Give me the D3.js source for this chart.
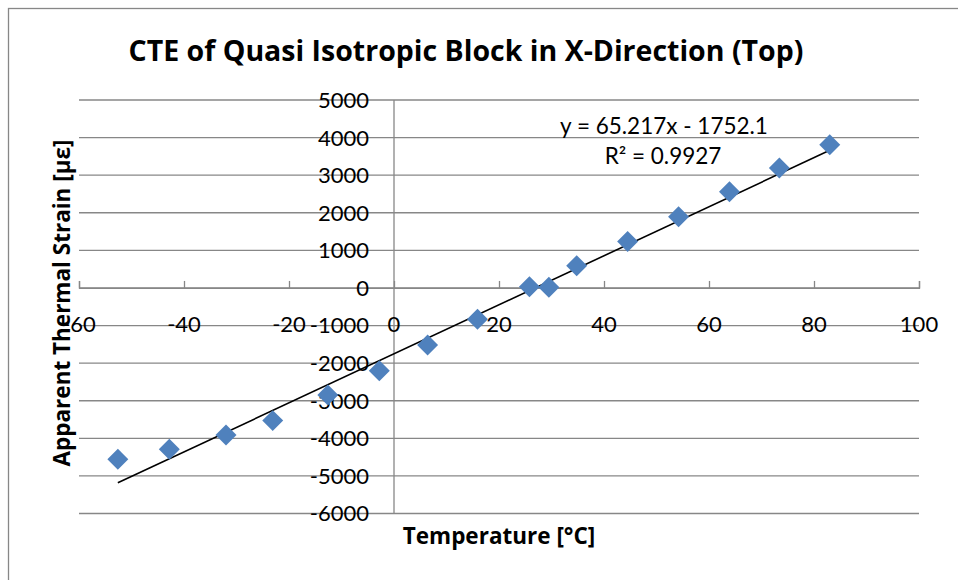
<!DOCTYPE html>
<html>
<head>
<meta charset="utf-8">
<script src="https://cdn.jsdelivr.net/npm/d3@7/dist/d3.min.js"></script>
<style>
  html, body { margin: 0; padding: 0; background: #fff; }
  svg { display: block; }
  text { font-family: Lato, "Open Sans", sans-serif; fill: #000; }
  .heading { font-family: "Open Sans", Lato, sans-serif; font-weight: bold; }
</style>
</head>
<body>
<svg id="chart" width="958" height="580"></svg>
<script>
// Measured temperature (°C) and apparent thermal strain (µε)
const temperature = [-52.6, -42.8, -32.0, -23.1, -12.6, -2.8, 6.4, 15.9, 25.8, 29.5, 34.8, 44.5, 54.2, 63.9, 73.4, 83.0];
const strain = [-4556, -4290, -3910, -3529, -2846, -2200, -1516, -830, 30, 20, 591, 1235, 1896, 2557, 3192, 3810];

// Linear trendline
const slope = 65.217;
const intercept = -1752.1;
const rSquared = 0.9927;

const xTicks = [-60, -40, -20, 0, 20, 40, 60, 80, 100];
const yTicks = [5000, 4000, 3000, 2000, 1000, 0, -1000, -2000, -3000, -4000, -5000, -6000];

const titleText = "CTE of Quasi Isotropic Block in X-Direction (Top)";
const xTitle = "Temperature [°C]";
const yTitle = "Apparent Thermal Strain [με]";

const svg = d3.select("#chart");

const plot = { left: 79, right: 919, top: 100, bottom: 513.5 };
const x = d3.scaleLinear().domain([-60, 100]).range([plot.left, plot.right]);
const y = d3.scaleLinear().domain([-6000, 5000]).range([plot.bottom, plot.top]);

const gridColor = "#878787";

// Outer chart frame (only left and top edges are inside the canvas)
svg.append("rect")
  .attr("x", 8.5).attr("y", 8.5)
  .attr("width", 1000).attr("height", 1000)
  .attr("fill", "none")
  .attr("stroke", gridColor)
  .attr("stroke-width", 1.3);

// Horizontal gridlines
svg.append("g")
  .selectAll("line")
  .data(yTicks)
  .join("line")
  .attr("x1", plot.left).attr("x2", plot.right)
  .attr("y1", d => y(d)).attr("y2", d => y(d))
  .attr("stroke", gridColor)
  .attr("stroke-width", 1.3);

// Vertical axis at x = 0
svg.append("line")
  .attr("x1", x(0)).attr("x2", x(0))
  .attr("y1", plot.top).attr("y2", plot.bottom)
  .attr("stroke", gridColor)
  .attr("stroke-width", 1.3);

// Horizontal axis at y = 0 with upward ticks
const xAxis = d3.axisTop(x).tickValues(xTicks).tickSize(7).tickFormat("");
const gx = svg.append("g")
  .attr("transform", `translate(0,${y(0)})`)
  .call(xAxis);
gx.select(".domain").attr("stroke", gridColor).attr("stroke-width", 1.3);
gx.selectAll(".tick line").attr("stroke", gridColor).attr("stroke-width", 1.3);

// X tick labels, just below the horizontal axis
svg.append("g")
  .selectAll("text")
  .data(xTicks)
  .join("text")
  .attr("x", d => x(d))
  .attr("y", y(0) + 44)
  .attr("text-anchor", "middle")
  .attr("font-size", 22)
  .text(d => String(d));

// Y tick labels, left of the vertical axis
svg.append("g")
  .selectAll("text")
  .data(yTicks)
  .join("text")
  .attr("x", x(0) - 25)
  .attr("y", d => y(d))
  .attr("dy", "0.36em")
  .attr("text-anchor", "end")
  .attr("font-size", 22)
  .text(d => String(d));

// Trendline over the data range
const xExtent = d3.extent(temperature);
svg.append("line")
  .attr("x1", x(xExtent[0])).attr("y1", y(slope * xExtent[0] + intercept))
  .attr("x2", x(xExtent[1])).attr("y2", y(slope * xExtent[1] + intercept))
  .attr("stroke", "#000")
  .attr("stroke-width", 1.6);

// Diamond markers
const diamond = d3.symbol().type(d3.symbolSquare).size(220);
svg.append("g")
  .selectAll("path")
  .data(temperature.map((t, i) => [t, strain[i]]))
  .join("path")
  .attr("d", diamond)
  .attr("transform", d => `translate(${x(d[0])},${y(d[1])}) rotate(45)`)
  .attr("fill", "#4F81BD");

// Trendline equation and R²
svg.append("text")
  .attr("x", 664).attr("y", 126).attr("dy", "0.36em")
  .attr("text-anchor", "middle").attr("font-size", 22.5)
  .text(`y = ${slope}x - ${Math.abs(intercept)}`);
svg.append("text")
  .attr("x", 663).attr("y", 156).attr("dy", "0.36em")
  .attr("text-anchor", "middle").attr("font-size", 22.5)
  .text(`R² = ${rSquared}`);

// Titles
svg.append("text")
  .attr("class", "heading")
  .attr("x", 466).attr("y", 51).attr("dy", "0.36em")
  .attr("text-anchor", "middle").attr("font-size", 28.5)
  .text(titleText);

svg.append("text")
  .attr("class", "heading")
  .attr("x", 499).attr("y", 536).attr("dy", "0.36em")
  .attr("text-anchor", "middle").attr("font-size", 22.5)
  .text(xTitle);

svg.append("text")
  .attr("class", "heading")
  .attr("transform", "translate(62,303) rotate(-90)")
  .attr("dy", "0.36em")
  .attr("text-anchor", "middle").attr("font-size", 22.5)
  .text(yTitle);
</script>
</body>
</html>
